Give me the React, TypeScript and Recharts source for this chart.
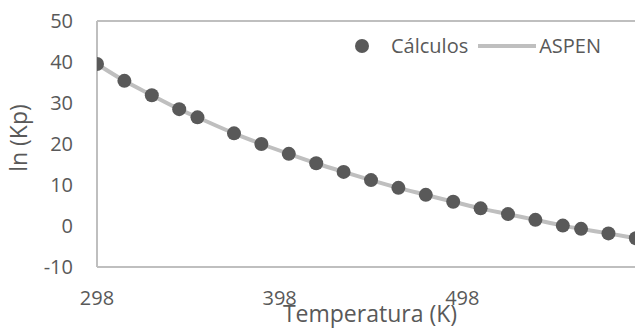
import React from "react";
import { ComposedChart, Line, Scatter, XAxis, YAxis, ReferenceLine } from "recharts";

const FONT = "'Open Sans', sans-serif";
const TEXT = "#595959";
const AXIS = "#BFBFBF";

// Temperatura (K)
const temperatures = [298, 313, 328, 343, 353, 373, 388, 403, 418, 433, 448, 463, 478, 493, 508, 523, 538, 553, 563, 578, 593];
// ln (Kp) - Cálculos
const calculos = [39.5, 35.4, 31.9, 28.5, 26.5, 22.6, 20.0, 17.6, 15.3, 13.2, 11.2, 9.3, 7.6, 5.9, 4.3, 2.9, 1.5, 0.1, -0.7, -1.8, -3.0];
// ln (Kp) - ASPEN
const aspen = [39.5, 35.4, 31.9, 28.5, 26.5, 22.6, 20.0, 17.6, 15.3, 13.2, 11.2, 9.3, 7.6, 5.9, 4.3, 2.9, 1.5, 0.1, -0.7, -1.8, -3.0];

const xTicks = [298, 398, 498];
const yTicks = [-10, 0, 10, 20, 30, 40, 50];

const data = temperatures.map((t, i) => ({ t, calculos: calculos[i], aspen: aspen[i] }));

const Dot = (props: any) => <circle cx={props.cx} cy={props.cy} r={7} fill={TEXT} />;

export default function App() {
  return (
    <div
      style={{
        position: "fixed",
        left: 0,
        top: 0,
        width: 635,
        height: 333,
        overflow: "hidden",
        background: "#fff",
      }}
    >
      <ComposedChart width={660} height={333} data={data} margin={{ top: 21, right: 15, bottom: 0, left: 0 }}>
        <XAxis
          dataKey="t"
          type="number"
          domain={[298, 598]}
          ticks={xTicks}
          allowDataOverflow
          height={66}
          tickLine={false}
          tickSize={0}
          tickMargin={24}
          axisLine={{ stroke: AXIS, strokeWidth: 2 }}
          tick={{ fill: TEXT, fontSize: 20, fontFamily: FONT }}
          label={{
            content: () => (
              <text x={370} y={322} textAnchor="middle" fill={TEXT} fontSize={23} fontFamily={FONT}>
                Temperatura (K)
              </text>
            ),
          }}
        />
        <YAxis
          type="number"
          domain={[-10, 50]}
          ticks={yTicks}
          width={97}
          tickLine={false}
          tickSize={0}
          tickMargin={24}
          axisLine={{ stroke: AXIS, strokeWidth: 2 }}
          tick={{ fill: TEXT, fontSize: 20, fontFamily: FONT }}
          label={{
            content: () => (
              <text
                x={27}
                y={138}
                transform="rotate(-90 27 138)"
                textAnchor="middle"
                fill={TEXT}
                fontSize={23}
                fontFamily={FONT}
              >
                ln (Kp)
              </text>
            ),
          }}
        />
        <ReferenceLine y={50} stroke={AXIS} strokeWidth={2} />
        <ReferenceLine x={598} stroke={AXIS} strokeWidth={2} />
        <Line
          dataKey="aspen"
          type="monotone"
          stroke={AXIS}
          strokeWidth={4}
          dot={false}
          isAnimationActive={false}
        />
        <Scatter dataKey="calculos" fill={TEXT} shape={Dot} isAnimationActive={false} />
      </ComposedChart>
      <div
        style={{
          position: "absolute",
          left: 355,
          top: 32,
          display: "flex",
          alignItems: "center",
          fontFamily: FONT,
          fontSize: 20,
          color: TEXT,
          lineHeight: "28px",
        }}
      >
        <svg width={14} height={14}>
          <circle cx={7} cy={7} r={7} fill={TEXT} />
        </svg>
        <span style={{ marginLeft: 22 }}>Cálculos</span>
        <svg width={58} height={6} style={{ margin: "0 3px 0 10px" }}>
          <line x1={0} y1={3} x2={58} y2={3} stroke={AXIS} strokeWidth={4} />
        </svg>
        <span>ASPEN</span>
      </div>
    </div>
  );
}
